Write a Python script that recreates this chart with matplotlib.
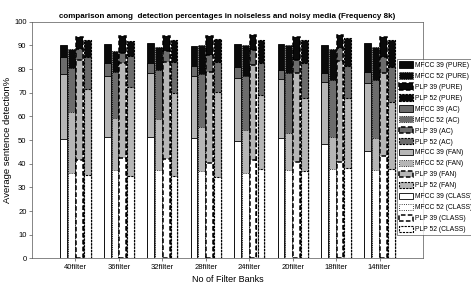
import numpy as np
import matplotlib.pyplot as plt

plt.rcParams['font.family'] = ['Liberation Sans', 'DejaVu Sans']

filters = ['40filter', '36filter', '32filter', '28filter', '24filter', '20filter', '18filter', '14filter']
features = ['MFCC 39', 'MFCC 52', 'PLP 39', 'PLP 52']
conditions = ['PURE', 'AC', 'FAN', 'CLASS']

# rows: MFCC 39, MFCC 52, PLP 39, PLP 52
pure = [[90.0, 90.6, 90.9, 89.7, 90.6, 90.6, 90.2, 90.9],
        [88.6, 87.6, 89.2, 90.2, 90.2, 90.2, 88.3, 89.5],
        [93.4, 94.0, 94.0, 94.0, 94.5, 93.7, 94.4, 93.7],
        [92.3, 92.0, 92.3, 92.7, 92.3, 92.3, 93.0, 92.3]]
ac = [[85.0, 82.7, 82.4, 81.3, 81.0, 79.6, 78.5, 78.9],
      [80.6, 78.9, 79.6, 77.8, 77.1, 78.2, 75.4, 75.4],
      [88.6, 86.6, 87.5, 85.9, 88.0, 83.8, 89.0, 85.2],
      [85.2, 85.5, 83.1, 82.8, 82.4, 82.4, 81.3, 81.0]]
fan = [[78.0, 77.2, 78.2, 77.2, 76.1, 75.7, 74.7, 74.0],
       [62.0, 59.4, 59.1, 55.6, 54.2, 53.1, 51.4, 50.7],
       [84.0, 82.5, 83.0, 78.9, 81.7, 78.2, 83.5, 78.2],
       [71.7, 72.3, 70.0, 70.4, 69.0, 67.6, 67.6, 66.2]]
clas = [[50.5, 51.1, 51.1, 50.7, 49.7, 50.7, 48.3, 45.5],
        [36.1, 37.3, 37.3, 37.0, 36.2, 37.3, 37.6, 37.3],
        [41.5, 42.3, 42.0, 40.4, 41.6, 40.8, 40.8, 43.2],
        [35.4, 34.8, 35.0, 34.5, 37.6, 37.0, 38.0, 37.6]]

cond_colors = ['#0a0a0a', '#6c6c6c', '#b6b6b6', '#ffffff']
edge_styles = ['-', ':', (0, (3, 1.5)), (0, (2, 1))]
edge_widths = [0.6, 0.6, 1.1, 0.8]

fig = plt.figure(figsize=(4.71, 2.90), dpi=100)
ax = fig.add_axes([0.068, 0.109, 0.830, 0.816])

x = np.arange(1, len(filters) + 1)
width = 0.155
for c, data in enumerate([pure, ac, fan, clas]):
    for k in range(4):
        ax.bar(x + (k - 1.5) * 0.18, data[k], width,
               color=cond_colors[c], edgecolor='black',
               linestyle=edge_styles[k], linewidth=edge_widths[k],
               label=f'{features[k]} ({conditions[c]})', zorder=2 + c)

ax.set_xlim(0, 9)
ax.set_ylim(0, 100)
ax.set_yticks(range(0, 101, 10))
ax.set_xticks(x)
ax.set_xticklabels(filters)
ax.tick_params(labelsize=5.5, length=2, width=0.5, color='#555555', pad=2)
for s in ax.spines.values():
    s.set_linewidth(0.5)
    s.set_color('#555555')

ax.set_title('comparison among  detection percentages in noiseless and noisy media (Frequency 8k)',
             fontsize=5.8, fontweight='bold', pad=3)
ax.set_ylabel('Average sentence detection%', fontsize=6.8)
ax.yaxis.set_label_coords(-0.05, 0.5)
ax.set_xlabel('No of Filter Banks', fontsize=6.5, labelpad=3)

leg = fig.legend(loc='upper left', bbox_to_anchor=(397 / 471, 1 - 59 / 290),
                 fontsize=4.9, frameon=True, fancybox=False, edgecolor='#333333',
                 handlelength=2.1, handleheight=1.1, labelspacing=0.5,
                 handletextpad=0.3, borderpad=0.3, borderaxespad=0)
leg.get_frame().set_linewidth(0.5)

fig.savefig('out.png', dpi=100)
